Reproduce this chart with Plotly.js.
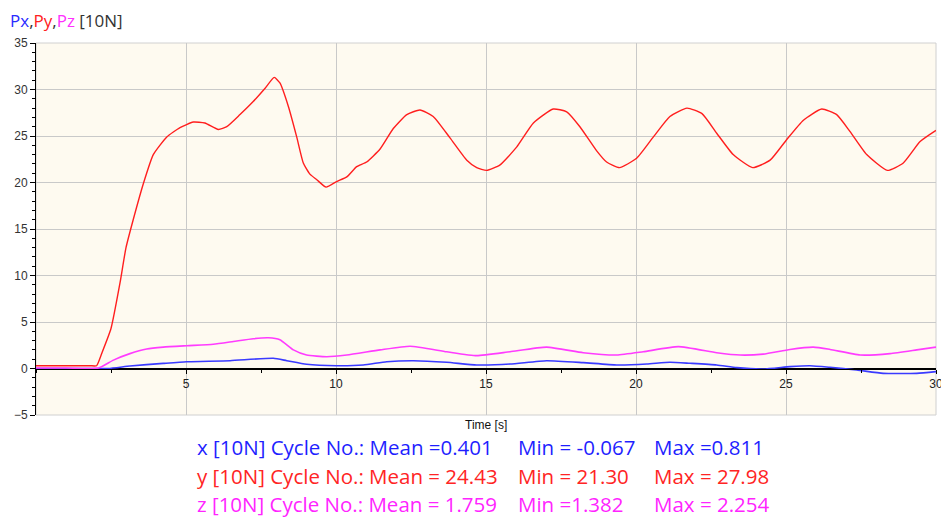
<!DOCTYPE html>
<html>
<head>
<meta charset="utf-8">
<script src="https://cdn.plot.ly/plotly-3.0.1.min.js"></script>
<style>html,body{margin:0;padding:0;background:#fff;}#chart{width:941px;height:519px;}</style>
</head>
<body>
<div id="chart"></div>
<script>
// ---- data ----
const pyT = [0, 1.0, 1.8, 2.02, 2.2, 2.5, 2.8, 3.0, 3.24, 3.58, 3.91, 4.36, 4.8, 5.24, 5.63, 6.08, 6.36, 6.8, 7.24, 7.63, 7.94, 8.13, 8.41, 8.69, 8.91, 9.13, 9.36, 9.67, 10.02, 10.36, 10.69, 11.02, 11.47, 11.91, 12.36, 12.8, 13.24, 13.8, 14.36, 14.69, 15.02, 15.47, 16.02, 16.58, 17.24, 17.69, 18.13, 18.69, 19.02, 19.45, 20.02, 20.58, 21.13, 21.7, 22.2, 22.69, 23.24, 23.89, 24.47, 25.02, 25.58, 26.19, 26.69, 27.13, 27.69, 28.38, 28.91, 29.47, 30.0];
const pyV = [0.3, 0.3, 0.3, 0.3, 1.7, 4.3, 9.2, 13.0, 16.0, 19.9, 23.0, 24.9, 25.9, 26.5, 26.4, 25.7, 26.0, 27.3, 28.7, 30.1, 31.3, 30.7, 28.2, 24.9, 22.1, 20.9, 20.3, 19.5, 20.1, 20.6, 21.7, 22.2, 23.6, 25.8, 27.3, 27.8, 27.1, 24.8, 22.4, 21.6, 21.3, 21.9, 23.8, 26.4, 27.9, 27.6, 26.0, 23.4, 22.2, 21.6, 22.6, 24.9, 27.1, 28.0, 27.4, 25.3, 23.0, 21.6, 22.4, 24.6, 26.7, 27.9, 27.3, 25.5, 23.0, 21.3, 22.1, 24.4, 25.6];

const pzT = [0, 1.0, 2.08, 2.58, 3.13, 3.69, 4.24, 5.02, 5.91, 6.58, 7.24, 7.75, 8.13, 8.58, 9.02, 9.69, 10.36, 11.47, 12.47, 13.69, 14.69, 15.8, 17.02, 18.24, 19.36, 20.24, 21.41, 22.69, 23.47, 24.24, 25.13, 25.91, 26.47, 27.47, 28.47, 29.36, 30.0];
const pzV = [0.05, 0.05, 0.05, 0.9, 1.6, 2.1, 2.3, 2.45, 2.6, 2.9, 3.2, 3.3, 3.1, 2.0, 1.45, 1.27, 1.45, 2.0, 2.4, 1.8, 1.38, 1.8, 2.3, 1.7, 1.45, 1.8, 2.35, 1.7, 1.45, 1.55, 2.05, 2.3, 2.05, 1.45, 1.6, 2.0, 2.3];

const pxT = [0, 1.2, 2.4, 3.13, 4.24, 5.02, 6.47, 7.91, 8.36, 9.02, 10.02, 10.91, 11.69, 12.58, 13.69, 14.69, 15.8, 17.02, 18.24, 19.36, 20.36, 21.13, 21.8, 22.69, 23.36, 24.24, 25.13, 25.8, 26.47, 27.36, 28.24, 29.36, 30.0];
const pxV = [0, 0, 0, 0.27, 0.55, 0.73, 0.84, 1.1, 0.84, 0.45, 0.3, 0.38, 0.73, 0.84, 0.67, 0.38, 0.48, 0.84, 0.63, 0.38, 0.48, 0.67, 0.56, 0.38, 0.09, -0.05, 0.2, 0.3, 0.13, -0.16, -0.52, -0.52, -0.34];

const xTickVals = [5, 10, 15, 20, 25, 30];
const yTickVals = [-5, 0, 5, 10, 15, 20, 25, 30, 35];

const statLabels = [
  ["x [10N] Cycle No.: Mean =0.401", "Min = -0.067", "Max =0.811"],
  ["y [10N] Cycle No.: Mean = 24.43", "Min = 21.30", "Max = 27.98"],
  ["z [10N] Cycle No.: Mean = 1.759", "Min =1.382", "Max = 2.254"]
];
const statColors = ["#1f1fff", "#ff2424", "#ff24ff"];

// ---- layout geometry (pixels) ----
const L = 36, R = 5, T = 43, B = 104, W = 941, H = 519;
const PW = W - L - R, PH = H - T - B;
const px2x = p => (p - L) / PW;
const py2y = p => (H - B - p) / PH;

const traces = [
  {x: pxT, y: pxV, mode: 'lines', line: {color: '#3a3aff', width: 1.6, shape: 'spline', smoothing: 0.5}, hoverinfo: 'skip'},
  {x: pzT, y: pzV, mode: 'lines', line: {color: '#ff3cff', width: 1.6, shape: 'spline', smoothing: 0.5}, hoverinfo: 'skip'},
  {x: pyT, y: pyV, mode: 'lines', line: {color: '#ff1e1e', width: 1.4, shape: 'spline', smoothing: 0.5}, hoverinfo: 'skip'}
];

const annotations = [
  {xref: 'paper', yref: 'paper', x: px2x(8), y: py2y(20), xanchor: 'left', yanchor: 'middle', showarrow: false,
   text: '<span style="color:#2a2aff">Px</span>,<span style="color:#ff2020">Py</span>,<span style="color:#ff30ff">Pz</span> <span style="color:#333">[10N]</span>',
   font: {family: 'Open Sans, sans-serif', size: 17, color: '#333'}},
  {xref: 'paper', yref: 'paper', x: 0.5, y: py2y(425), xanchor: 'center', yanchor: 'middle', showarrow: false,
   text: 'Time [s]', font: {family: 'Arial, Liberation Sans, sans-serif', size: 12, color: '#111'}}
];
const colX = [195, 516, 652];
const rowY = [447, 476, 504];
statLabels.forEach((row, i) => {
  row.forEach((txt, j) => {
    annotations.push({xref: 'paper', yref: 'paper', x: px2x(colX[j]), y: py2y(rowY[i]), xanchor: 'left', yanchor: 'middle',
      showarrow: false, text: txt, font: {family: 'Open Sans, sans-serif', size: 20.5, color: statColors[i]}});
  });
});

const layout = {
  width: W, height: H,
  margin: {l: L, r: R, t: T, b: B, pad: 0},
  paper_bgcolor: '#ffffff',
  plot_bgcolor: '#fefaf0',
  showlegend: false,
  xaxis: {
    range: [0, 30], anchor: 'free', position: 0.125,
    tickvals: xTickVals, ticks: 'outside', ticklen: 4, tickcolor: '#000',
    ticklabeloverflow: 'allow',
    showline: true, linecolor: '#000', linewidth: 1,
    showgrid: true, gridcolor: '#c9c9c9', gridwidth: 1, zeroline: false,
    tickfont: {family: 'Arial, Liberation Sans, sans-serif', size: 12, color: '#222'},
    minor: {dtick: 2.5, tick0: 0, ticks: 'outside', ticklen: 3, tickcolor: '#000', showgrid: false}
  },
  yaxis: {
    range: [-5, 35], tickvals: yTickVals, ticks: 'outside', ticklen: 5, tickcolor: '#000',
    showline: true, linecolor: '#000', linewidth: 1,
    showgrid: true, gridcolor: '#c9c9c9', gridwidth: 1,
    zeroline: true, zerolinecolor: '#000', zerolinewidth: 1,
    tickfont: {family: 'Arial, Liberation Sans, sans-serif', size: 12, color: '#333'},
    minor: {dtick: 1, tick0: 0, ticks: 'outside', ticklen: 3, tickcolor: '#000', showgrid: false}
  },
  shapes: [
    {type: 'rect', xref: 'paper', yref: 'paper', x0: 0, x1: 1, y0: 0, y1: 1, line: {color: '#d0d0d0', width: 1}, layer: 'below'}
  ],
  annotations: annotations
};

Plotly.newPlot('chart', traces, layout, {displayModeBar: false, staticPlot: true});
</script>
</body>
</html>
